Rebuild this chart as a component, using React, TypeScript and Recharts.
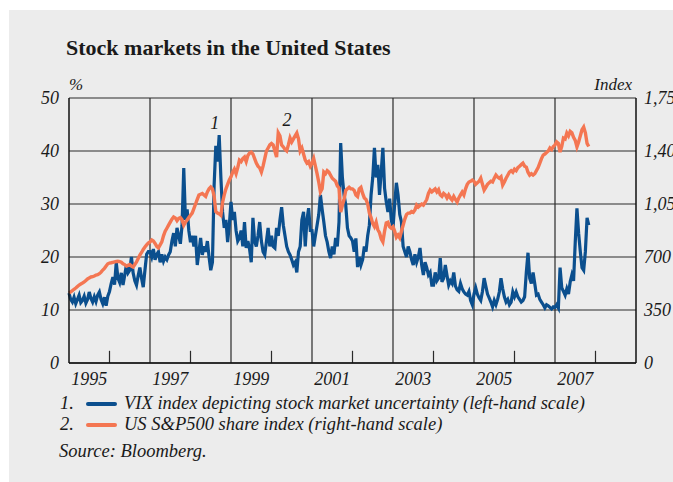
import React from "react";
import {
  LineChart,
  Line,
  XAxis,
  YAxis,
  CartesianGrid,
  ReferenceLine,
  ReferenceDot,
} from "recharts";

const BLUE = "#0b4f8e";
const ORANGE = "#f47652";
const INK = "#1a1a1a";
const FONT = '"Liberation Serif", "DejaVu Serif", serif';

// semi-monthly readings, starting January 1995
const START_YEAR = 1995;
const STEPS_PER_YEAR = 24;

// VIX, per cent (left-hand scale)
const vixValues = [
  13.2, 12.0, 11.5, 12.4, 11.2, 12.0, 12.8, 11.4, 11.8, 12.6, 11.3, 12.0, 13.4, 12.2, 11.5, 12.5, 11.6, 12.8, 13.4, 12.0, 11.2, 12.4, 10.8, 12.6,
  13.5, 15.0, 16.2, 14.8, 19.0, 16.0, 15.2, 17.0, 14.7, 16.5, 18.5, 17.0, 17.5, 20.0, 17.0, 15.5, 14.7, 16.5, 18.0, 16.0, 14.3, 17.5, 20.5, 21.0,
  21.0, 20.0, 21.5, 19.5, 20.5, 21.0, 19.0, 20.5, 19.2, 20.0, 19.5, 20.4, 21.0, 23.0, 24.5, 22.0, 25.5, 24.0, 22.5, 26.0, 36.8, 27.0, 29.0, 25.0,
  22.8, 24.0, 22.0, 24.0, 18.5, 21.0, 23.6, 20.4, 22.0, 21.0, 23.0, 20.0, 17.5, 19.0, 33.6, 41.0, 38.0, 43.0, 35.0, 28.5, 25.5, 27.0, 22.8, 26.0,
  30.4, 27.0, 28.5, 25.0, 23.0, 23.6, 25.0, 22.0, 26.6, 21.7, 23.0, 21.5, 19.0, 27.4, 23.0, 22.0, 24.0, 26.6, 23.0, 21.0, 20.4, 23.0, 25.5, 22.0,
  24.0, 22.0, 21.7, 25.5, 24.0, 27.0, 29.4, 26.0, 24.0, 22.0, 21.0, 20.4, 19.5, 18.5, 19.0, 17.1, 21.0, 22.0, 27.0, 28.5, 22.0, 27.0, 29.2, 25.0,
  25.0, 22.0, 24.0, 26.0, 28.0, 31.7, 29.0, 26.6, 24.0, 22.8, 21.0, 19.8, 22.0, 20.5, 23.6, 22.0, 26.6, 41.5, 35.0, 31.7, 29.8, 25.5, 24.0, 23.6,
  23.0, 21.0, 23.5, 18.1, 20.0, 18.5, 19.5, 22.0, 21.0, 24.0, 26.0, 31.7, 35.0, 40.6, 35.0, 37.4, 31.7, 36.0, 40.6, 33.0, 30.4, 28.5, 31.0, 27.0,
  25.5, 30.0, 34.0, 31.7, 28.0, 26.6, 22.0, 21.0, 20.0, 22.0, 21.0, 19.5, 18.5, 20.5, 19.0, 20.0, 21.7, 18.5, 16.6, 19.0, 18.0, 16.6, 17.1, 14.7,
  14.7, 17.1, 15.5, 16.0, 19.8, 15.3, 16.0, 18.5, 16.5, 14.7, 15.5, 15.0, 17.1, 14.5, 13.8, 13.5, 15.0, 14.0, 13.4, 13.0, 12.8, 13.5, 11.8, 11.0,
  13.0, 14.2, 13.0, 12.3, 11.8, 13.5, 16.0, 14.5, 13.0, 12.3, 11.5, 10.6, 11.8, 11.0, 12.0, 13.4, 16.0, 14.0, 12.5, 11.5, 12.0, 11.0, 11.5, 13.4,
  12.5, 13.4, 12.5, 12.0, 11.5, 11.8, 12.5, 17.1, 20.8, 16.0, 15.0, 17.1, 15.0, 12.8, 13.0, 12.0, 11.5, 11.0, 10.4, 11.0, 10.8, 10.5, 10.2, 10.6,
  10.5, 11.0, 10.4, 18.0, 14.2, 13.5, 12.8, 14.0, 13.0, 15.3, 16.6, 15.5, 22.8, 29.2, 24.5, 21.0, 18.0, 17.5, 21.0, 27.4, 26.0,
];

// S&P 500 index level (right-hand scale)
const spxValues = [
  462, 470, 478, 487, 495, 505, 515, 522, 528, 535, 545, 555, 562, 568, 570, 575, 581, 583, 590, 600, 614, 625, 640, 655,
  660, 662, 665, 668, 670, 672, 670, 665, 655, 650, 640, 645, 650, 640, 634, 650, 667, 690, 713, 730, 750, 766, 780, 792,
  800, 812, 805, 790, 770, 760, 780, 800, 840, 870, 890, 910, 930, 950, 964, 958, 940, 955, 960, 945, 910, 930, 945, 960,
  975, 990, 1020, 1050, 1080, 1109, 1115, 1120, 1110, 1100, 1130, 1150, 1162, 1150, 1100, 1000, 990, 985, 975, 1060, 1110, 1150, 1180, 1208,
  1230, 1260, 1280, 1250, 1290, 1340, 1330, 1350, 1360, 1330, 1370, 1387, 1393, 1380, 1350, 1320, 1300, 1288, 1261, 1300, 1350, 1400, 1420, 1440,
  1450, 1440, 1400, 1360, 1520, 1500, 1440, 1427, 1410, 1400, 1440, 1486, 1460, 1480, 1500, 1519, 1480, 1400, 1420, 1380, 1340, 1320, 1330, 1300,
  1320, 1350, 1300, 1250, 1195, 1129, 1150, 1261, 1250, 1270, 1260, 1240, 1220, 1210, 1200, 1170, 1155, 997, 1040, 1080, 1140, 1150, 1160, 1150,
  1150, 1140, 1110, 1100, 1150, 1160, 1120, 1090, 1080, 1050, 990, 960, 920, 900, 930, 880, 860, 820, 800, 870, 925, 930, 900, 890,
  900, 870, 830, 845, 826, 870, 910, 950, 980, 990, 990, 1000, 995, 1010, 1043, 1030, 1040, 1050, 1043, 1060, 1080, 1120, 1142, 1130,
  1140, 1150, 1130, 1145, 1110, 1100, 1120, 1110, 1090, 1110, 1090, 1076, 1100, 1080, 1063, 1090, 1110, 1129, 1110, 1150, 1180, 1195, 1200, 1208,
  1200, 1180, 1190, 1200, 1220, 1180, 1142, 1160, 1180, 1190, 1200, 1195, 1220, 1241, 1228, 1220, 1230, 1175, 1195, 1220, 1240, 1261, 1270, 1260,
  1280, 1270, 1290, 1300, 1310, 1320, 1300, 1294, 1260, 1241, 1250, 1241, 1250, 1270, 1290, 1320, 1350, 1373, 1380, 1390, 1400, 1420, 1410, 1430,
  1440, 1460, 1450, 1393, 1430, 1486, 1480, 1519, 1500, 1530, 1520, 1490, 1470, 1427, 1460, 1500, 1540, 1558, 1520, 1450, 1430,
];

const gridYears = [1997, 1999, 2001, 2003, 2005, 2007];
const minorYears = [1996, 1998, 2000, 2002, 2004, 2006, 2008];
const labelYears = [1995, 1997, 1999, 2001, 2003, 2005, 2007];
const leftTicks = [0, 10, 20, 30, 40, 50];
const rightTicks = [0, 350, 700, 1050, 1400, 1750];

const data = vixValues.map((v, i) => ({
  t: START_YEAR + i / STEPS_PER_YEAR,
  vix: v,
  spx: spxValues[i],
}));

const tickStyle = {
  fontFamily: FONT,
  fontStyle: "italic",
  fontSize: 18,
  fill: INK,
};

const textStyle: React.CSSProperties = {
  position: "absolute",
  fontFamily: FONT,
  fontStyle: "italic",
  fontSize: 18.5,
  color: INK,
  lineHeight: "19px",
  whiteSpace: "nowrap",
};

export default function App() {
  return (
    <div
      style={{
        position: "absolute",
        left: 0,
        top: 0,
        width: 673,
        height: 482,
        overflow: "hidden",
        background: "#fff",
      }}
    >
      <div
        style={{
          position: "absolute",
          left: 9,
          top: 10,
          width: 664,
          height: 472,
          background: "#ececec",
        }}
      />
      <div
        style={{
          position: "absolute",
          left: 66,
          top: 37,
          fontFamily: FONT,
          fontWeight: "bold",
          fontSize: 22,
          lineHeight: "22px",
          color: INK,
          whiteSpace: "nowrap",
        }}
      >
        Stock markets in the United States
      </div>
      <div style={{ ...textStyle, fontSize: 17, left: 69, top: 75 }}>%</div>
      <div style={{ ...textStyle, fontSize: 17, right: 41, top: 75 }}>Index</div>

      <div style={{ position: "absolute", left: 0, top: 0 }}>
        <LineChart
          width={673}
          height={482}
          data={data}
          margin={{ top: 98, right: 0, bottom: 89, left: 9 }}
        >
          <CartesianGrid
            yAxisId="left"
            vertical={false}
            stroke="#2a2a2a"
            strokeWidth={1.2}
          />
          <XAxis
            dataKey="t"
            type="number"
            domain={[1995, 2009]}
            ticks={labelYears.map((y) => y + 0.5)}
            tickFormatter={(v: number) => String(Math.floor(v))}
            tickLine={false}
            tickSize={0}
            tickMargin={9}
            axisLine={{ stroke: "#111", strokeWidth: 1.5 }}
            tick={tickStyle}
            height={30}
            interval={0}
          />
          <YAxis
            yAxisId="left"
            domain={[0, 50]}
            ticks={leftTicks}
            tickLine={false}
            tickSize={0}
            tickMargin={10}
            axisLine={{ stroke: "#111", strokeWidth: 1.5 }}
            tick={tickStyle}
            width={60}
            interval={0}
          />
          <YAxis
            yAxisId="right"
            orientation="right"
            domain={[0, 1750]}
            ticks={rightTicks}
            tickFormatter={(v: number) => v.toLocaleString("en-US")}
            tickLine={false}
            tickSize={0}
            tickMargin={8}
            axisLine={{ stroke: "#111", strokeWidth: 1.5 }}
            tick={tickStyle}
            width={37}
            interval={0}
          />
          {gridYears.map((y) => (
            <ReferenceLine
              key={`g${y}`}
              yAxisId="left"
              x={y}
              stroke="#2a2a2a"
              strokeWidth={1.2}
            />
          ))}
          {minorYears.map((y) => (
            <ReferenceLine
              key={`m${y}`}
              yAxisId="left"
              segment={[
                { x: y, y: 0 },
                { x: y, y: 2.3 },
              ]}
              stroke="#2a2a2a"
              strokeWidth={1.2}
            />
          ))}
          <Line
            yAxisId="left"
            dataKey="vix"
            type="linear"
            stroke={BLUE}
            strokeWidth={3.2}
            dot={false}
            isAnimationActive={false}
          />
          <Line
            yAxisId="right"
            dataKey="spx"
            type="linear"
            stroke={ORANGE}
            strokeWidth={3.4}
            dot={false}
            isAnimationActive={false}
          />
          <ReferenceDot
            yAxisId="left"
            x={1998.6}
            y={45.3}
            r={0}
            fill="none"
            stroke="none"
            label={{ value: "1", position: "center", ...tickStyle }}
          />
          <ReferenceDot
            yAxisId="left"
            x={2000.38}
            y={46}
            r={0}
            fill="none"
            stroke="none"
            label={{ value: "2", position: "center", ...tickStyle }}
          />
        </LineChart>
      </div>

      <div style={{ ...textStyle, left: 60, top: 394 }}>1.</div>
      <div
        style={{
          position: "absolute",
          left: 86,
          top: 402,
          width: 31,
          height: 4,
          borderRadius: 2,
          background: BLUE,
        }}
      />
      <div style={{ ...textStyle, left: 124, top: 394 }}>
        VIX index depicting stock market uncertainty (left-hand scale)
      </div>
      <div style={{ ...textStyle, left: 60, top: 415 }}>2.</div>
      <div
        style={{
          position: "absolute",
          left: 86,
          top: 423,
          width: 31,
          height: 4,
          borderRadius: 2,
          background: ORANGE,
        }}
      />
      <div style={{ ...textStyle, left: 124, top: 415 }}>
        US S&amp;P500 share index (right-hand scale)
      </div>
      <div style={{ ...textStyle, left: 59, top: 442 }}>Source: Bloomberg.</div>
    </div>
  );
}
